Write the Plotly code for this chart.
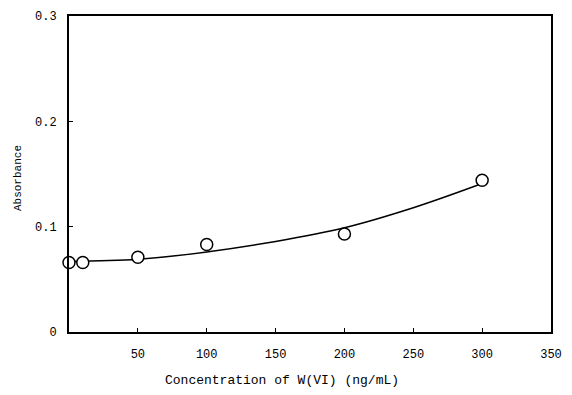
import plotly.graph_objects as go

# Data
conc = [0, 10, 50, 100, 200, 300]
absorb = [0.066, 0.066, 0.071, 0.083, 0.093, 0.144]

# Fitted curve
curve_x = [0, 50, 100, 150, 200, 250, 300]
curve_y = [0.067, 0.069, 0.076, 0.086, 0.099, 0.118, 0.141]

x_ticks = [50, 100, 150, 200, 250, 300, 350]
y_ticks = [0, 0.1, 0.2, 0.3]
y_tick_text = ["0", "0.1", "0.2", "0.3"]

fig = go.Figure()
fig.add_trace(go.Scatter(x=curve_x, y=curve_y, mode="lines",
                         line=dict(color="black", width=1.5, shape="spline"),
                         hoverinfo="skip", showlegend=False))
fig.add_trace(go.Scatter(x=conc, y=absorb, mode="markers", cliponaxis=False,
                         marker=dict(symbol="circle", size=12, color="white",
                                     line=dict(color="black", width=1.5)),
                         showlegend=False))

font_fam = "Liberation Mono, DejaVu Sans Mono, monospace"
fig.update_layout(
    width=572, height=395,
    margin=dict(l=69, r=20, t=10, b=63),
    paper_bgcolor="white", plot_bgcolor="white",
    font=dict(family=font_fam, color="black", size=12),
    xaxis=dict(range=[0, 350], tickvals=x_ticks, ticks="inside", ticklen=4,
               tickcolor="black", showgrid=False, zeroline=False,
               showline=True, linecolor="black", linewidth=2, mirror=True,
               ticklabelstandoff=10, tickfont=dict(size=12)),
    yaxis=dict(range=[0, 0.3], tickvals=y_ticks, ticktext=y_tick_text,
               ticks="inside", ticklen=4, tickcolor="black", showgrid=False,
               zeroline=False, showline=True, linecolor="black", linewidth=2,
               mirror=True, ticklabelstandoff=8, tickfont=dict(size=12)),
    annotations=[
        dict(text="Concentration of W(VI) (ng/mL)", xref="paper", yref="paper",
             x=(282 - 69) / (552 - 69), y=-49 / 322, showarrow=False,
             xanchor="center", yanchor="middle", font=dict(size=13)),
        dict(text="Absorbance", xref="paper", yref="paper",
             x=-51 / 483, y=(332 - 175) / 322, showarrow=False, textangle=-90,
             xanchor="center", yanchor="middle", font=dict(size=11)),
    ],
)

fig.write_html("out.html")
